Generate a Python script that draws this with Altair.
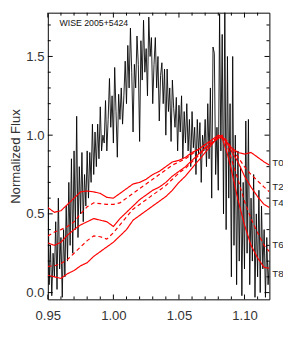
import altair as alt
import pandas as pd

# ---------------- data ----------------
wave_start = 0.950
wave_step = 0.001
flux = [
    0.80, 0.05, 0.30, -0.02, 0.25, 0.10, 0.45, 0.02, 0.60, 0.15,
    0.35, -0.03, 0.40, 0.10, 0.55, 0.20, 0.70, 0.30, 0.85, 0.25,
    0.90, 0.40, 1.12, 0.35, 0.80, 0.50, 0.89, 0.45, 0.75, 0.55,
    0.90, 0.60, 0.89, 0.70, 1.07, 0.75, 1.02, 0.80, 1.07, 0.85,
    1.18, 0.90, 1.00, 0.95, 1.22, 0.90, 1.10, 1.36, 1.05, 1.25,
    0.95, 1.43, 1.15, 0.86, 1.26, 1.10, 1.30, 1.07, 1.25, 1.47,
    1.20, 1.57, 1.30, 1.68, 1.40, 1.02, 1.45, 1.30, 1.63, 1.45,
    0.96, 1.60, 1.35, 1.73, 1.40, 1.55, 1.25, 1.75, 1.50, 1.62,
    1.20, 1.45, 1.62, 1.30, 1.50, 1.09, 1.38, 1.46, 1.20, 1.42,
    1.00, 1.42, 1.15, 1.30, 0.96, 1.35, 1.17, 1.05, 1.24, 0.90,
    1.19, 1.02, 1.25, 0.85, 1.15, 0.95, 1.20, 0.90, 1.10, 0.80,
    1.15, 0.92, 1.05, 0.75, 1.10, 0.88, 1.08, 0.70, 1.00, 0.90,
    1.10, 0.80, 1.20, 0.85, 1.30, 0.60, 1.56, 1.52, 0.75, 1.05,
    0.65, 1.77, 0.90, 1.64, 0.50, 1.85, 0.40, 1.50, 0.60, 1.20,
    0.10, 1.50, 0.30, 1.00, 0.05, 0.90, 0.20, 0.80, -0.02, 0.70,
    0.15, 1.09, 0.25, 1.10, 0.05, 0.60, 0.20, 0.75, -0.03, 0.50,
    0.10, 0.65, 0.00, 0.55, 0.15, 0.40, -0.03, 0.35, 0.05, 0.20,
]

tmpl_wave = [0.950, 0.955, 0.960, 0.965, 0.970, 0.975, 0.980, 0.985, 0.990, 0.995,
             1.000, 1.005, 1.010, 1.015, 1.020, 1.025, 1.030, 1.035, 1.040, 1.045,
             1.050, 1.055, 1.060, 1.065, 1.070, 1.075, 1.080, 1.083, 1.087, 1.090,
             1.095, 1.100, 1.105, 1.110, 1.115, 1.119]
T0 = [0.54, 0.51, 0.52, 0.56, 0.60, 0.64, 0.645, 0.64, 0.63, 0.605,
      0.60, 0.63, 0.66, 0.69, 0.70, 0.72, 0.75, 0.77, 0.80, 0.83,
      0.84, 0.86, 0.89, 0.91, 0.94, 0.97, 1.00, 0.99, 0.95, 0.92,
      0.89, 0.88, 0.89, 0.86, 0.83, 0.81]
T2 = [0.36, 0.385, 0.40, 0.42, 0.45, 0.50, 0.545, 0.57, 0.565, 0.56,
      0.56, 0.57, 0.60, 0.63, 0.66, 0.69, 0.72, 0.75, 0.78, 0.81,
      0.83, 0.85, 0.88, 0.91, 0.94, 0.96, 0.99, 1.00, 0.96, 0.92,
      0.86, 0.80, 0.75, 0.71, 0.67, 0.64]
T4 = [0.315, 0.30, 0.32, 0.365, 0.40, 0.43, 0.45, 0.47, 0.46, 0.45,
      0.42, 0.47, 0.51, 0.55, 0.59, 0.62, 0.65, 0.67, 0.70, 0.74,
      0.77, 0.80, 0.84, 0.88, 0.92, 0.95, 0.98, 0.99, 0.95, 0.90,
      0.83, 0.74, 0.67, 0.61, 0.56, 0.54]
T6 = [0.167, 0.17, 0.185, 0.21, 0.25, 0.29, 0.33, 0.36, 0.355, 0.34,
      0.38, 0.43, 0.48, 0.53, 0.56, 0.59, 0.62, 0.65, 0.68, 0.72,
      0.76, 0.79, 0.83, 0.87, 0.91, 0.95, 0.98, 0.99, 0.93, 0.85,
      0.72, 0.58, 0.47, 0.38, 0.30, 0.26]
T8 = [0.11, 0.10, 0.09, 0.12, 0.14, 0.17, 0.19, 0.23, 0.26, 0.29,
      0.32, 0.36, 0.40, 0.46, 0.49, 0.52, 0.55, 0.58, 0.61, 0.65,
      0.70, 0.74, 0.79, 0.84, 0.89, 0.94, 0.99, 0.98, 0.88, 0.78,
      0.59, 0.43, 0.30, 0.22, 0.16, 0.155]

tmpl_names = ["T0", "T2", "T4", "T6", "T8"]
tmpl_styles = ["solid", "dashed", "solid", "dashed", "solid"]
label_y = [0.82, 0.67, 0.57, 0.30, 0.12]

x_major = [0.95, 1.00, 1.05, 1.10]
x_minor = [0.96, 0.97, 0.98, 0.99, 1.01, 1.02, 1.03, 1.04, 1.06, 1.07, 1.08, 1.09, 1.11]
y_major = [0.0, 0.5, 1.0, 1.5]
y_minor = [0.1, 0.2, 0.3, 0.4, 0.6, 0.7, 0.8, 0.9, 1.1, 1.2, 1.3, 1.4, 1.6, 1.7]

object_name = "WISE 2005+5424"

# ---------------- frames ----------------
spec = pd.DataFrame({
    "wave": [round(wave_start + wave_step * i, 4) for i in range(len(flux))],
    "flux": flux,
})
rows = []
for name, style, vals in zip(tmpl_names, tmpl_styles, [T0, T2, T4, T6, T8]):
    for w, v in zip(tmpl_wave, vals):
        rows.append({"wave": w, "flux": v, "name": name, "style": style})
tmpl = pd.DataFrame(rows)
labels = pd.DataFrame({"name": tmpl_names, "y": label_y})

W, H = 228, 295
XD = [0.95, 1.119]
YD = [-0.043, 1.778]
FONT = "Liberation Sans"

xs = alt.Scale(domain=XD, nice=False, zero=False)
ys = alt.Scale(domain=YD, nice=False, zero=False)

base_spec = alt.Chart(spec).mark_line(color="black", strokeWidth=0.9, clip=True).encode(
    x=alt.X("wave:Q", scale=xs,
            axis=alt.Axis(values=x_major, format=".2f", title=None, labelPadding=10,
                          labelFlush=False, labelOverlap=False)),
    y=alt.Y("flux:Q", scale=ys,
            axis=alt.Axis(values=y_major, format=".1f", title="Normalized Flux",
                          labelPadding=4, titlePadding=3, labelFlush=False,
                          labelOverlap=False)),
)

red = alt.Chart(tmpl).mark_line(color="#ff0000", strokeWidth=1.2, clip=True).encode(
    x=alt.X("wave:Q", scale=xs),
    y=alt.Y("flux:Q", scale=ys),
    detail="name:N",
    strokeDash=alt.StrokeDash("style:N", scale=alt.Scale(domain=["solid", "dashed"],
                                                          range=[[1, 0], [4, 3]]),
                              legend=None),
)

tlabels = alt.Chart(labels).mark_text(align="left", baseline="middle", font=FONT,
                                      fontSize=10, color="#222", clip=False).encode(
    x=alt.value(W + 3),
    y=alt.Y("y:Q", scale=ys),
    text="name:N",
)

title_txt = alt.Chart(pd.DataFrame({"t": [object_name]})).mark_text(
    align="left", baseline="middle", font=FONT, fontSize=9, color="#111"
).encode(x=alt.value(12), y=alt.value(11), text="t:N")

def xt(vals, L, top):
    d = pd.DataFrame({"v": vals})
    if top:
        enc = dict(y=alt.value(0), y2=alt.value(L))
    else:
        enc = dict(y=alt.value(H), y2=alt.value(H - L))
    return alt.Chart(d).mark_rule(color="black", strokeWidth=1).encode(
        x=alt.X("v:Q", scale=xs), **enc)

def yt(vals, L, right):
    d = pd.DataFrame({"v": vals})
    if right:
        enc = dict(x=alt.value(W), x2=alt.value(W - L))
    else:
        enc = dict(x=alt.value(0), x2=alt.value(L))
    return alt.Chart(d).mark_rule(color="black", strokeWidth=1).encode(
        y=alt.Y("v:Q", scale=ys), **enc)

ticks = [xt(x_major, 5, False), xt(x_minor, 3, False), xt(x_major, 5, True), xt(x_minor, 3, True),
         yt(y_major, 5, False), yt(y_minor, 3, False), yt(y_major, 5, True), yt(y_minor, 3, True)]

chart = alt.layer(base_spec, red, tlabels, title_txt, *ticks).properties(
    width=W, height=H,
    autosize=alt.AutoSizeParams(type="none"),
    padding={"left": 41, "top": 0, "right": 14, "bottom": 37},
).configure_view(stroke="black", strokeWidth=1).configure_axis(
    domain=False, ticks=False, grid=False,
    labelFont=FONT, labelFontSize=13.5, labelColor="#333",
    titleFont=FONT, titleFontSize=13.5, titleFontWeight="normal", titleColor="#333",
)

chart.save("out.html", embed_options={"renderer": "svg", "actions": False})
